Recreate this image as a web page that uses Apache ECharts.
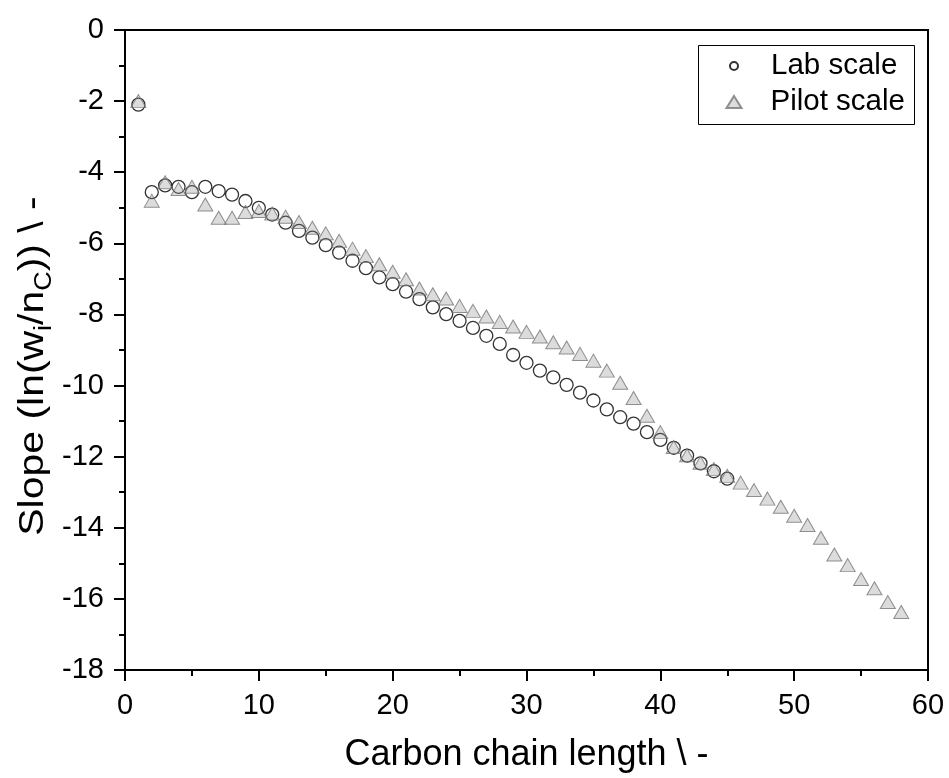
<!DOCTYPE html>
<html>
<head>
<meta charset="utf-8">
<script src="https://cdn.jsdelivr.net/npm/echarts@6/dist/echarts.min.js"></script>
<style>
html,body{margin:0;padding:0;background:#fff;}
#chart{width:949px;height:778px;}
</style>
</head>
<body>
<div id="chart"></div>
<script>
// Carbon chain lengths
const labX = [1,2,3,4,5,6,7,8,9,10,11,12,13,14,15,16,17,18,19,20,21,22,23,24,25,26,27,28,29,30,31,32,33,34,35,36,37,38,39,40,41,42,43,44,45];
const labY = [-2.1,-4.56,-4.37,-4.41,-4.56,-4.41,-4.53,-4.63,-4.81,-5.0,-5.19,-5.42,-5.65,-5.84,-6.05,-6.26,-6.49,-6.70,-6.96,-7.15,-7.36,-7.57,-7.80,-7.99,-8.18,-8.38,-8.60,-8.83,-9.14,-9.36,-9.58,-9.77,-9.98,-10.20,-10.42,-10.67,-10.89,-11.07,-11.31,-11.53,-11.75,-11.97,-12.19,-12.41,-12.62];
const pilotX = [1,2,3,4,5,6,7,8,9,10,11,12,13,14,15,16,17,18,19,20,21,22,23,24,25,26,27,28,29,30,31,32,33,34,35,36,37,38,39,40,41,42,43,44,45,46,47,48,49,50,51,52,53,54,55,56,57,58];
const pilotY = [-2.0,-4.8,-4.28,-4.47,-4.41,-4.91,-5.28,-5.28,-5.12,-5.09,-5.16,-5.25,-5.40,-5.56,-5.72,-5.93,-6.15,-6.36,-6.59,-6.80,-7.01,-7.27,-7.43,-7.55,-7.76,-7.90,-8.06,-8.21,-8.34,-8.49,-8.62,-8.78,-8.93,-9.11,-9.30,-9.58,-9.92,-10.35,-10.85,-11.31,-11.73,-11.96,-12.17,-12.35,-12.54,-12.73,-12.94,-13.18,-13.41,-13.66,-13.92,-14.28,-14.75,-15.05,-15.44,-15.70,-16.09,-16.37];
const seriesNames = ['Lab scale', 'Pilot scale'];
const xTitle = 'Carbon chain length \\ -';
const yTitleRich = '{a|Slope (ln(w}{s|i}{a|/n}{s|C}{a|)) \\ -}';

const FONT = '"Liberation Sans", Arial, sans-serif';
const chart = echarts.init(document.getElementById('chart'), null, {renderer: 'canvas'});

const axisCommon = {
  axisLine: {show: true, onZero: false, lineStyle: {color: '#000', width: 2}},
  axisTick: {show: true, inside: false, length: 11, lineStyle: {color: '#000', width: 2}},
  minorTick: {show: true, splitNumber: 2, length: 6, lineStyle: {color: '#000', width: 2}},
  splitLine: {show: false},
  minorSplitLine: {show: false},
  axisLabel: {color: '#000', fontSize: 29, fontFamily: FONT, margin: 21}
};

const legendText = {color: '#000', fontSize: 29.5, fontFamily: FONT, lineHeight: 34};

chart.setOption({
  animation: false,
  backgroundColor: '#fff',
  grid: {left: 125, right: 21, top: 30, bottom: 106, show: true, borderColor: '#000', borderWidth: 2, containLabel: false},
  graphic: [
    {
      type: 'rect', left: 696, top: 43, z: 100,
      shape: {width: 216, height: 79},
      style: {fill: 'none', stroke: '#000', lineWidth: 1}
    },
    {
      type: 'text', x: 30, y: 366, rotation: Math.PI / 2, scaleX: 1.17, z: 100,
      style: {
        text: yTitleRich, align: 'center', verticalAlign: 'middle',
        fontSize: 35, fontFamily: FONT, fill: '#000',
        rich: {
          a: {fontSize: 35, fontFamily: FONT, fill: '#000', lineHeight: 42, verticalAlign: 'bottom'},
          s: {fontSize: 23, fontFamily: FONT, fill: '#000', lineHeight: 23, verticalAlign: 'bottom', padding: [0,0,-5,0]}
        }
      }
    }
  ],
  legend: [
    {
      left: 729, top: 49, orient: 'vertical', padding: 0,
      itemWidth: 8, itemHeight: 8,
      textStyle: Object.assign({}, legendText, {padding: [0, 0, 0, 28]}),
      data: [seriesNames[0]]
    },
    {
      left: 725.5, top: 85, orient: 'vertical', padding: 0,
      itemWidth: 15, itemHeight: 12,
      textStyle: Object.assign({}, legendText, {padding: [0, 0, 0, 24]}),
      data: [seriesNames[1]]
    }
  ],
  xAxis: Object.assign({}, axisCommon, {
    type: 'value', min: 0, max: 60, interval: 10,
    name: xTitle,
    nameLocation: 'middle', nameGap: 67,
    nameTextStyle: {color: '#000', fontSize: 36, fontFamily: FONT}
  }),
  yAxis: Object.assign({}, axisCommon, {
    type: 'value', min: -18, max: 0, interval: 2
  }),
  series: [
    {
      name: seriesNames[0], type: 'scatter',
      data: labX.map((x, i) => [x, labY[i]]),
      symbol: 'circle', symbolSize: 13,
      itemStyle: {color: 'rgba(255,255,255,0)', borderColor: '#000', borderWidth: 1.3},
      z: 2
    },
    {
      name: seriesNames[1], type: 'scatter',
      data: pilotX.map((x, i) => [x, pilotY[i]]),
      symbol: 'triangle', symbolSize: [15, 13],
      itemStyle: {color: 'rgba(128,128,128,0.35)', borderColor: '#777', borderWidth: 1},
      z: 3
    }
  ]
});
</script>
</body>
</html>
